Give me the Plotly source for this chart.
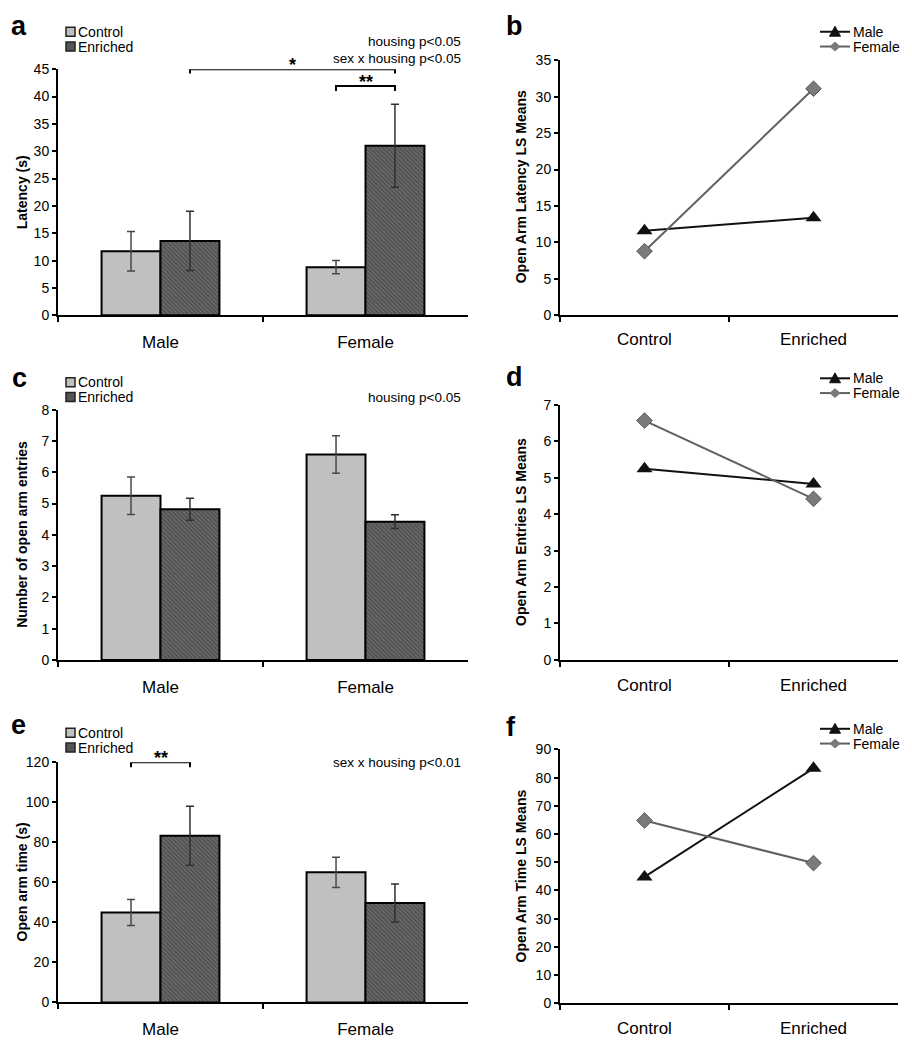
import plotly.graph_objects as go

# The page body keeps its default 8px margin, so the figure is sized to fill
# the 912x1050 window exactly together with that margin.
WIN_W, WIN_H = 912, 1050
BODY = 8
W, H = WIN_W - 2 * BODY, WIN_H - 2 * BODY
FONT = "Liberation Sans, Arial, sans-serif"

# ---------------- data ----------------
sex = ["Male", "Female"]
housing = ["Control", "Enriched"]

latency_control = [11.7, 8.8]
latency_control_err = [3.6, 1.2]
latency_enriched = [13.6, 31.0]
latency_enriched_err = [5.4, 7.6]

entries_control = [5.25, 6.57]
entries_control_err = [0.6, 0.6]
entries_enriched = [4.82, 4.42]
entries_enriched_err = [0.35, 0.22]

time_control = [45.0, 65.0]
time_control_err = [6.5, 7.5]
time_enriched = [83.3, 49.7]
time_enriched_err = [14.7, 9.5]

latency_ls_male = [11.6, 13.4]
latency_ls_female = [8.8, 31.1]
entries_ls_male = [5.25, 4.83]
entries_ls_female = [6.57, 4.42]
time_ls_male = [44.8, 83.3]
time_ls_female = [64.8, 49.7]

bar_titles = ["Latency (s)", "Number of open arm entries", "Open arm time (s)"]
line_titles = ["Open Arm Latency LS Means", "Open Arm Entries LS Means", "Open Arm Time LS Means"]
panel_letters = ["a", "b", "c", "d", "e", "f"]

# ---------------- helpers (window pixels -> paper fraction) ----------------
def px(x):
    return (x - BODY) / W

def py(y):
    return 1 - (y - BODY) / H

BARGAP = 0.425
OFF = (1 - BARGAP) / 4  # centre offset of each bar in a group

fig = go.Figure()

bar_sets = [
    (latency_control, latency_control_err, latency_enriched, latency_enriched_err),
    (entries_control, entries_control_err, entries_enriched, entries_enriched_err),
    (time_control, time_control_err, time_enriched, time_enriched_err),
]
line_sets = [
    (latency_ls_male, latency_ls_female),
    (entries_ls_male, entries_ls_female),
    (time_ls_male, time_ls_female),
]

for i, (c, ce, e, ee) in enumerate(bar_sets):
    n = 2 * i + 1
    xa = "x" if n == 1 else f"x{n}"
    ya = "y" if n == 1 else f"y{n}"
    fig.add_trace(go.Bar(
        x=sex, y=c, name="Control", xaxis=xa, yaxis=ya, offsetgroup="c",
        marker=dict(color="#c0c0c0", line=dict(color="black", width=2)),
        error_y=dict(type="data", array=ce, color="#484848", thickness=1.5, width=4),
        showlegend=False))
    fig.add_trace(go.Bar(
        x=sex, y=e, name="Enriched", xaxis=xa, yaxis=ya, offsetgroup="e",
        marker=dict(color="#5a5a5a", line=dict(color="black", width=2),
                    pattern=dict(shape="\\", fgcolor="#2e2e2e", bgcolor="#6a6a6a",
                                 size=3, solidity=0.45)),
        error_y=dict(type="data", array=ee, color="#303030", thickness=1.5, width=4),
        showlegend=False))

for i, (m, f) in enumerate(line_sets):
    n = 2 * i + 2
    xa, ya = f"x{n}", f"y{n}"
    fig.add_trace(go.Scatter(
        x=housing, y=m, name="Male", xaxis=xa, yaxis=ya, mode="lines+markers",
        line=dict(color="#111111", width=2),
        marker=dict(symbol="triangle-up", size=14, color="#111111"),
        showlegend=False))
    fig.add_trace(go.Scatter(
        x=housing, y=f, name="Female", xaxis=xa, yaxis=ya, mode="lines+markers",
        line=dict(color="#606060", width=2),
        marker=dict(symbol="diamond", size=12, color="#7a7a7a",
                    line=dict(color="#555555", width=1)),
        showlegend=False))

# ---------------- axes ----------------
left_x = (58, 468)
right_x = (560, 898)
geo = [
    (left_x, (62, 312), [0, 45], 5, 10),
    (right_x, (53, 312), [0, 35], 5, 7),
    (left_x, (408, 662), [0, 8], 1, 11),
    (right_x, (403, 662), [0, 7], 1, 9),
    (left_x, (766, 1010), [0, 120], 20, 10),
    (right_x, (753, 1010.7), [0, 90], 10, 8),
]

layout = dict(
    width=W, height=H, margin=dict(l=0, r=0, t=0, b=0),
    paper_bgcolor="white", plot_bgcolor="white",
    font=dict(family=FONT, color="black", size=14),
    barmode="group", bargap=BARGAP, bargroupgap=0,
    showlegend=False,
)

for k, ((x0, x1), (yt, yb), rng, dt, stand) in enumerate(geo):
    n = k + 1
    xs = "xaxis" if n == 1 else f"xaxis{n}"
    ys = "yaxis" if n == 1 else f"yaxis{n}"
    layout[xs] = dict(
        domain=[px(x0), px(x1)], anchor="y" if n == 1 else f"y{n}",
        type="category", range=[-0.5, 1.5],
        showline=True, linecolor="black", linewidth=2,
        ticks="outside", tickson="boundaries", ticklen=5, tickwidth=1.5, tickcolor="black",
        tickfont=dict(size=17, family=FONT), ticklabelstandoff=stand,
        showgrid=False, zeroline=False, fixedrange=True)
    layout[ys] = dict(
        domain=[py(yb), py(yt)], anchor="x" if n == 1 else f"x{n}",
        range=rng, dtick=dt, tick0=0,
        showline=True, linecolor="black", linewidth=2,
        ticks="outside", ticklen=4, tickwidth=1.5, tickcolor="black",
        tickfont=dict(size=14, family=FONT),
        showgrid=False, zeroline=False, fixedrange=True)

annotations = []
shapes = []

def note(text, x, y, xanchor="center", yanchor="middle", size=14, **kw):
    annotations.append(dict(text=text, x=px(x), y=py(y), xref="paper", yref="paper",
                            xanchor=xanchor, yanchor=yanchor, showarrow=False,
                            font=dict(size=size, family=FONT), **kw))

# panel letters
letter_pos = [(19, 18.5), (514, 18.5), (19, 375.5), (514, 374.5), (18, 728.5), (511, 730.5)]
for L, (lx, ly) in zip(panel_letters, letter_pos):
    note(f"<b>{L}</b>", lx, ly, size=27)

# y-axis titles
ytitle_pos = [(22, 187), (521, 182), (22, 535), (521, 532), (22, 888), (521, 882)]
titles = [bar_titles[0], line_titles[0], bar_titles[1], line_titles[1], bar_titles[2], line_titles[2]]
for t, (tx, ty) in zip(titles, ytitle_pos):
    note(f"<b>{t}</b>", tx, ty, textangle=-90)

# stats text
stat_text = [("housing p<0.05", 34), ("sex x housing p<0.05", 51),
             ("housing p<0.05", 395), ("sex x housing p<0.01", 766)]
for t, ty in stat_text:
    note(t, 463, ty, xanchor="right", size=13.5)

# significance brackets (data coordinates)
def bracket(xref, yref, xa, xb, yv, drop, label):
    shapes.append(dict(type="path", xref=xref, yref=yref,
                       path=f"M {xa},{yv - drop} L {xa},{yv} L {xb},{yv} L {xb},{yv - drop}",
                       line=dict(color="black", width=2)))
    annotations.append(dict(text=f"<b>{label}</b>", x=(xa + xb) / 2, y=yv, xref=xref, yref=yref,
                            xanchor="center", yanchor="bottom", yshift=-8, showarrow=False,
                            font=dict(size=18, family=FONT)))

bracket("x", "y", 0 + OFF, 1 + OFF, 45, 0.8, "*")
bracket("x", "y", 1 - OFF, 1 + OFF, 41.9, 0.9, "**")
bracket("x5", "y5", 0 - OFF, 0 + OFF, 120, 2.5, "**")

# legends for bar panels
for ytop in (24, 380, 736):
    for j, (lab, fill) in enumerate([("Control", "#c0c0c0"), ("Enriched", "#555555")]):
        cy = ytop + 15 * j
        shapes.append(dict(type="rect", xref="paper", yref="paper",
                           x0=px(66), x1=px(75), y0=py(cy + 4.5), y1=py(cy - 4.5),
                           fillcolor=fill, line=dict(color="#222222", width=1.5)))
        note(lab, 76, cy, xanchor="left")

# legends for line panels
for ytop in (24, 376, 732):
    for j, (lab, col, mcol, sym) in enumerate([("Male", "#111111", "#111111", "tri"),
                                               ("Female", "#606060", "#7a7a7a", "dia")]):
        cy = ytop + 15 * j
        shapes.append(dict(type="line", xref="paper", yref="paper",
                           x0=px(820), x1=px(850), y0=py(cy), y1=py(cy),
                           line=dict(color=col, width=2)))
        cx = 835
        if sym == "tri":
            pts = [(cx - 5.5, cy + 4.5), (cx + 5.5, cy + 4.5), (cx, cy - 5.5)]
        else:
            pts = [(cx - 5, cy), (cx, cy - 4.5), (cx + 5, cy), (cx, cy + 4.5)]
        path = "M " + " L ".join(f"{px(a)},{py(b)}" for a, b in pts) + " Z"
        shapes.append(dict(type="path", xref="paper", yref="paper", path=path,
                           fillcolor=mcol, line=dict(color=mcol, width=1)))
        note(lab, 851, cy, xanchor="left")

layout["annotations"] = annotations
layout["shapes"] = shapes
fig.update_layout(**layout)

fig.write_html("out.html", config={"displayModeBar": False})
